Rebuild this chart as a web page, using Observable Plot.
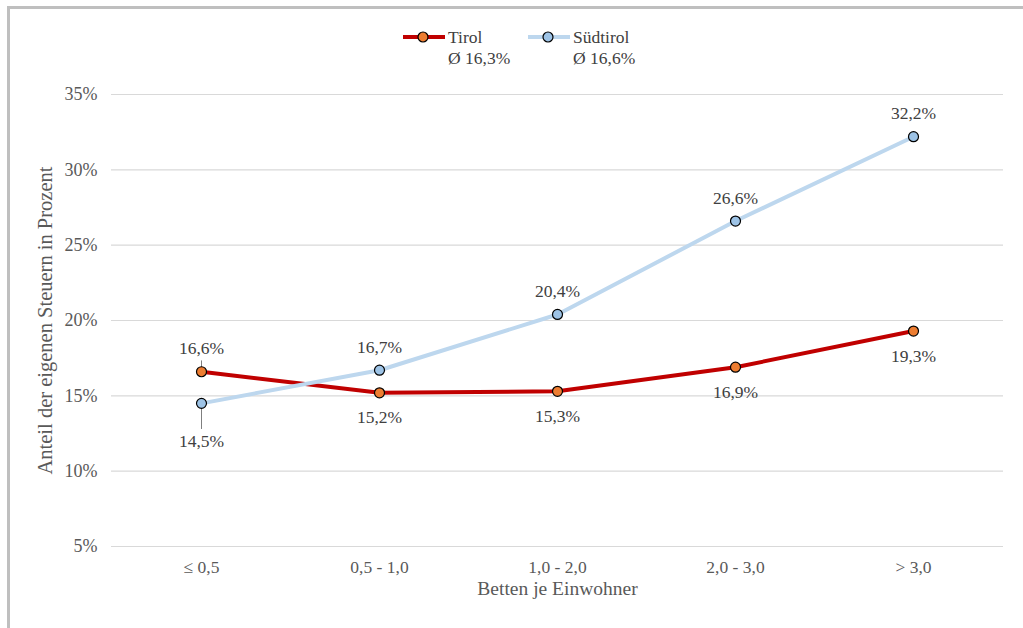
<!DOCTYPE html>
<html>
<head>
<meta charset="utf-8">
<script src="https://cdn.jsdelivr.net/npm/d3@7"></script>
<script src="https://cdn.jsdelivr.net/npm/@observablehq/plot@0.6"></script>
<style>
  html, body { margin: 0; padding: 0; background: #fff; overflow: hidden; }
  #wrap { position: relative; width: 1023px; height: 628px; overflow: hidden; font-family: "Liberation Serif", "Times New Roman", serif; }
  #border { position: absolute; left: 7px; top: 6px; width: 1100px; height: 700px; border: 3px solid #bfbfbf; box-sizing: border-box; pointer-events: none; }
  #chart { position: absolute; left: 0; top: 0; }
  #chart svg, #chart svg g, #chart svg text { font-family: "Liberation Serif", "Times New Roman", serif !important; }
  .leg { position: absolute; font-size: 17.5px; color: #404040; line-height: 20px; white-space: nowrap; }
</style>
</head>
<body>
<div id="wrap">
  <div id="chart"></div>
  <div id="legend"></div>
  <div id="border"></div>
</div>
<script>
const categories = ["≤ 0,5", "0,5 - 1,0", "1,0 - 2,0", "2,0 - 3,0", "> 3,0"];
const tirol = [16.6, 15.2, 15.3, 16.9, 19.3];
const suedtirol = [14.5, 16.7, 20.4, 26.6, 32.2];
const tirolLabelSide = ["above", "below", "below", "below", "below"];
const suedtirolLabelSide = ["below-leader", "above", "above", "above", "above"];
const yTicks = [5, 10, 15, 20, 25, 30, 35];
const seriesNames = ["Tirol", "Südtirol"];
const seriesAverages = ["Ø 16,3%", "Ø 16,6%"];
const xTitle = "Betten je Einwohner";
const yTitle = "Anteil der eigenen Steuern in Prozent";

const colors = {
  Tirol: { line: "#c00000", dot: "#ed7d31" },
  "Südtirol": { line: "#bdd7ee", dot: "#9dc3e6" }
};

const fmt = v => v.toFixed(1).replace(".", ",") + "%";

function rows(name, values, sides) {
  return values.map((v, i) => ({ series: name, cat: categories[i], value: v, side: sides[i], label: fmt(v) }));
}
const tRows = rows("Tirol", tirol, tirolLabelSide);
const sRows = rows("Südtirol", suedtirol, suedtirolLabelSide);
const all = [...tRows, ...sRows];

const leaderRowsUp = all.filter(d => d.series === "Tirol" && d.cat === categories[0]);
const leaderRowsDown = all.filter(d => d.side === "below-leader");

const textStyle = { fill: "#404040", fontSize: 17.5 };

const chart = Plot.plot({
  width: 1023,
  height: 628,
  marginLeft: 111,
  marginRight: 20,
  marginTop: 94,
  marginBottom: 82,
  style: { fontFamily: "Liberation Serif", fontSize: "18px", color: "#595959", background: "transparent" },
  x: { type: "point", domain: categories, padding: 0.5 },
  y: { domain: [5, 35] },
  marks: [
    Plot.gridY(yTicks, { stroke: "#d9d9d9", strokeOpacity: 1, strokeWidth: 1.2 }),
    Plot.axisY(yTicks, { tickFormat: d => d + "%", tickSize: 0, tickPadding: 14, fontSize: 18, fill: "#595959", label: null }),
    Plot.axisX({ tickSize: 0, tickPadding: 14, fontSize: 17.5, fill: "#595959", label: null }),
    Plot.text([xTitle], { frameAnchor: "bottom", dy: 48, fontSize: 19.5, fill: "#595959" }),
    Plot.text([yTitle], { frameAnchor: "left", textAnchor: "middle", dx: -66, rotate: -90, fontSize: 20.5, fill: "#595959" }),
    Plot.link(leaderRowsUp, { x1: "cat", x2: "cat", y1: "value", y2: d => d.value + 0.75, stroke: "#7f7f7f", strokeWidth: 1 }),
    Plot.link(leaderRowsDown, { x1: "cat", x2: "cat", y1: "value", y2: d => d.value - 1.7, stroke: "#7f7f7f", strokeWidth: 1 }),
    Plot.line(tRows, { x: "cat", y: "value", stroke: colors.Tirol.line, strokeWidth: 4 }),
    Plot.line(sRows, { x: "cat", y: "value", stroke: colors["Südtirol"].line, strokeWidth: 4 }),
    Plot.dot(tRows, { x: "cat", y: "value", r: 5, fill: colors.Tirol.dot, stroke: "#000", strokeWidth: 1.2 }),
    Plot.dot(sRows, { x: "cat", y: "value", r: 5, fill: colors["Südtirol"].dot, stroke: "#000", strokeWidth: 1.2 }),
    Plot.text(all.filter(d => d.side === "above"), { x: "cat", y: "value", text: "label", dy: -23, ...textStyle }),
    Plot.text(all.filter(d => d.side === "below"), { x: "cat", y: "value", text: "label", dy: 25, ...textStyle }),
    Plot.text(all.filter(d => d.side === "below-leader"), { x: "cat", y: "value", text: "label", dy: 38, ...textStyle })
  ]
});
document.getElementById("chart").appendChild(chart);

// Legend (HTML overlay at top)
const legend = document.getElementById("legend");
const legendX = [403, 528];
seriesNames.forEach((name, i) => {
  const x0 = legendX[i];
  const sw = document.createElementNS("http://www.w3.org/2000/svg", "svg");
  sw.setAttribute("width", 44);
  sw.setAttribute("height", 14);
  sw.style.position = "absolute";
  sw.style.left = x0 + "px";
  sw.style.top = "30px";
  sw.innerHTML = `<line x1="0" x2="42" y1="7" y2="7" stroke="${colors[name].line}" stroke-width="4"/>` +
    `<circle cx="20" cy="7" r="5" fill="${colors[name].dot}" stroke="#000" stroke-width="1.2"/>`;
  legend.appendChild(sw);
  const t = document.createElement("div");
  t.className = "leg";
  t.style.left = (x0 + 45) + "px";
  t.style.top = "27px";
  t.textContent = name;
  legend.appendChild(t);
  const a = document.createElement("div");
  a.className = "leg";
  a.style.left = (x0 + 45) + "px";
  a.style.top = "48px";
  a.textContent = seriesAverages[i];
  legend.appendChild(a);
});
</script>
</body>
</html>
